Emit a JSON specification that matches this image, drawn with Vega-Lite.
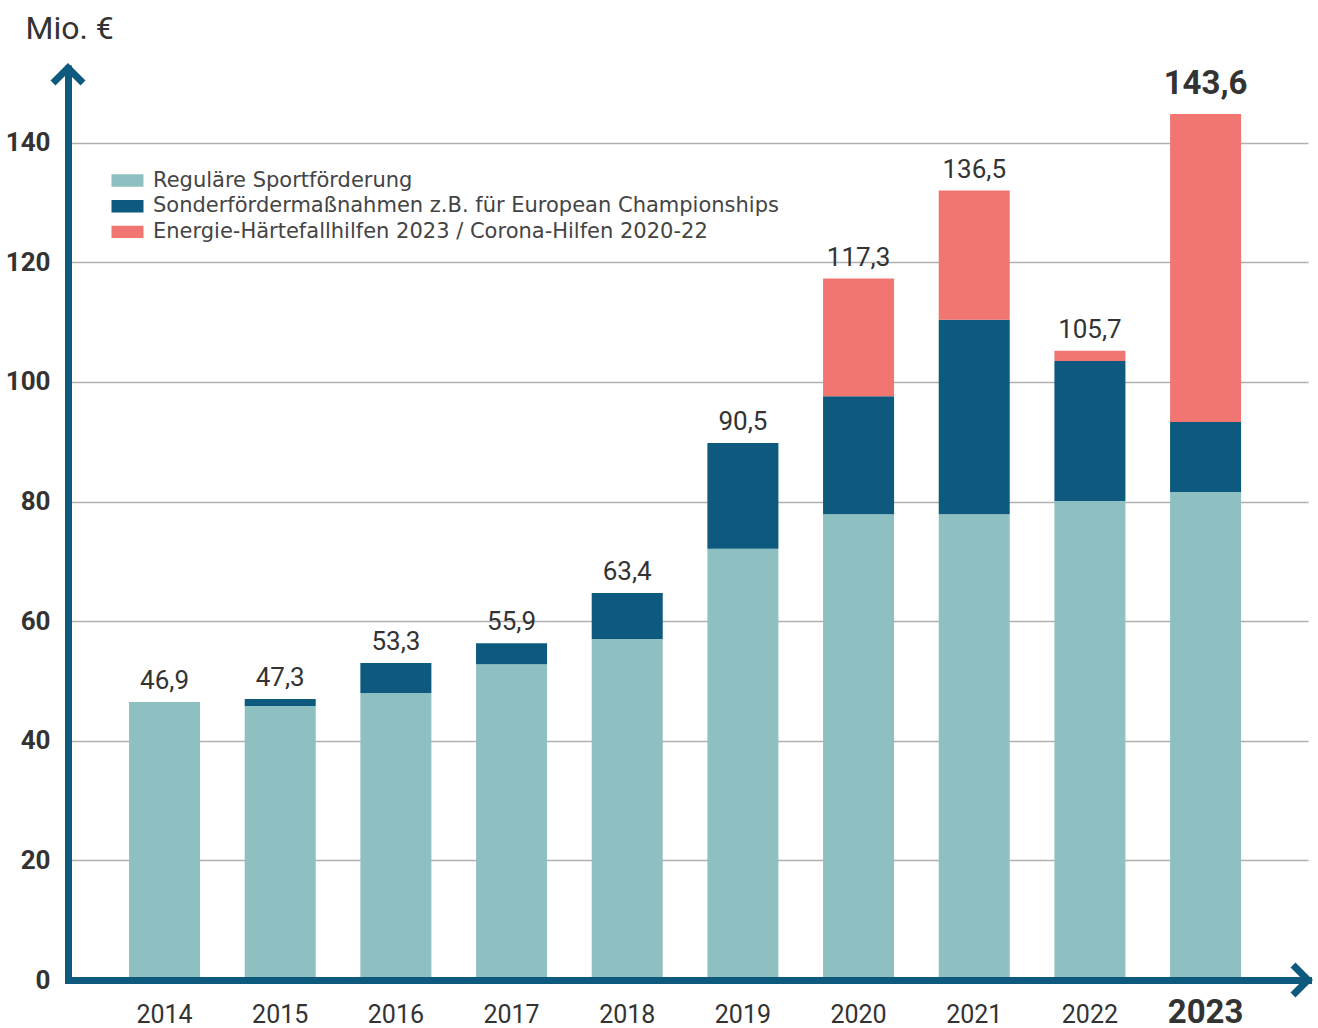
{
  "$schema": "https://vega.github.io/schema/vega-lite/v6.json",
  "width": 1240,
  "height": 915,
  "autosize": {"type": "none"},
  "padding": {"left": 68, "top": 65, "right": 10, "bottom": 48},
  "background": "white",
  "config": {"font": "Roboto", "view": {"stroke": null}},
  "datasets": {
    "bars": [
      {"year": "2014", "category": "Reguläre Sportförderung", "ord": 1, "value": 46.5, "label": "46,9"},
      {"year": "2015", "category": "Reguläre Sportförderung", "ord": 1, "value": 45.8, "label": "47,3"},
      {"year": "2015", "category": "Sonderfördermaßnahmen z.B. für European Championships", "ord": 2, "value": 1.2, "label": "47,3"},
      {"year": "2016", "category": "Reguläre Sportförderung", "ord": 1, "value": 48.0, "label": "53,3"},
      {"year": "2016", "category": "Sonderfördermaßnahmen z.B. für European Championships", "ord": 2, "value": 5.0, "label": "53,3"},
      {"year": "2017", "category": "Reguläre Sportförderung", "ord": 1, "value": 52.8, "label": "55,9"},
      {"year": "2017", "category": "Sonderfördermaßnahmen z.B. für European Championships", "ord": 2, "value": 3.5, "label": "55,9"},
      {"year": "2018", "category": "Reguläre Sportförderung", "ord": 1, "value": 57.0, "label": "63,4"},
      {"year": "2018", "category": "Sonderfördermaßnahmen z.B. für European Championships", "ord": 2, "value": 7.7, "label": "63,4"},
      {"year": "2019", "category": "Reguläre Sportförderung", "ord": 1, "value": 72.1, "label": "90,5"},
      {"year": "2019", "category": "Sonderfördermaßnahmen z.B. für European Championships", "ord": 2, "value": 17.7, "label": "90,5"},
      {"year": "2020", "category": "Reguläre Sportförderung", "ord": 1, "value": 77.9, "label": "117,3"},
      {"year": "2020", "category": "Sonderfördermaßnahmen z.B. für European Championships", "ord": 2, "value": 19.7, "label": "117,3"},
      {"year": "2020", "category": "Energie-Härtefallhilfen 2023 / Corona-Hilfen 2020-22", "ord": 3, "value": 19.7, "label": "117,3"},
      {"year": "2021", "category": "Reguläre Sportförderung", "ord": 1, "value": 77.9, "label": "136,5"},
      {"year": "2021", "category": "Sonderfördermaßnahmen z.B. für European Championships", "ord": 2, "value": 32.5, "label": "136,5"},
      {"year": "2021", "category": "Energie-Härtefallhilfen 2023 / Corona-Hilfen 2020-22", "ord": 3, "value": 21.6, "label": "136,5"},
      {"year": "2022", "category": "Reguläre Sportförderung", "ord": 1, "value": 80.1, "label": "105,7"},
      {"year": "2022", "category": "Sonderfördermaßnahmen z.B. für European Championships", "ord": 2, "value": 23.4, "label": "105,7"},
      {"year": "2022", "category": "Energie-Härtefallhilfen 2023 / Corona-Hilfen 2020-22", "ord": 3, "value": 1.7, "label": "105,7"},
      {"year": "2023", "category": "Reguläre Sportförderung", "ord": 1, "value": 81.6, "label": "143,6"},
      {"year": "2023", "category": "Sonderfördermaßnahmen z.B. für European Championships", "ord": 2, "value": 11.7, "label": "143,6"},
      {"year": "2023", "category": "Energie-Härtefallhilfen 2023 / Corona-Hilfen 2020-22", "ord": 3, "value": 51.5, "label": "143,6"}
    ]
  },
  "layer": [
    {
      "data": {"name": "bars"},
      "mark": {"type": "bar"},
      "encoding": {
        "x": {
          "field": "year", "type": "ordinal",
          "scale": {"paddingInner": 0.386, "paddingOuter": 0.553, "align": 0.477},
          "axis": {
            "title": null, "labelAngle": 0, "ticks": false,
            "labelFontSize": {"condition": {"test": "datum.value == '2023'", "value": 33}, "value": 25},
            "labelFontWeight": {"condition": {"test": "datum.value == '2023'", "value": "bold"}, "value": "normal"},
            "labelColor": "#333333", "labelBaseline": "alphabetic", "labelPadding": 42,
            "domainColor": "#0d5a7e", "domainWidth": 7, "domainCap": "square", "grid": false, "zindex": 1
          }
        },
        "y": {
          "field": "value", "type": "quantitative", "stack": "zero",
          "scale": {"domain": [0, 153], "nice": false},
          "axis": {
            "values": [0, 20, 40, 60, 80, 100, 120, 140],
            "title": "Mio. €", "titleAngle": 0, "titleX": -43, "titleY": -27,
            "titleAlign": "left", "titleBaseline": "alphabetic", "titleFontSize": 32,
            "titleFontWeight": "normal", "titleColor": "#333333",
            "labelFontSize": 26, "labelFontWeight": "bold", "labelColor": "#333333",
            "labelPadding": 18, "ticks": false,
            "domainColor": "#0d5a7e", "domainWidth": 7,
            "grid": true, "gridColor": "#b0b0b0", "gridWidth": 1.5, "zindex": 0
          }
        },
        "color": {
          "field": "category", "type": "nominal",
          "scale": {
            "domain": ["Reguläre Sportförderung", "Sonderfördermaßnahmen z.B. für European Championships", "Energie-Härtefallhilfen 2023 / Corona-Hilfen 2020-22"],
            "range": ["#8fc0c1", "#0d5a7e", "#f17672"]
          },
          "legend": {
            "orient": "none", "legendX": 49, "legendY": 105, "title": null, "padding": 0,
            "symbolType": "M-1.6,-0.62H1.6V0.62H-1.6Z", "symbolSize": 400, "symbolStrokeWidth": 0,
            "labelFont": "DejaVu Sans", "labelFontSize": 21, "labelColor": "#444444", "labelOffset": 15, "rowPadding": 3.7,
            "labelLimit": 900
          }
        },
        "order": {"field": "ord", "type": "quantitative"}
      }
    },
    {
      "data": {"name": "bars"},
      "transform": [
        {"aggregate": [{"op": "sum", "field": "value", "as": "total"}], "groupby": ["year", "label"]},
        {"filter": "datum.year != '2023'"}
      ],
      "mark": {"type": "text", "baseline": "alphabetic", "dy": -13, "fontSize": 26, "color": "#333333"},
      "encoding": {
        "x": {"field": "year", "type": "ordinal"},
        "y": {"field": "total", "type": "quantitative", "title": "Mio. €"},
        "text": {"field": "label"}
      }
    },
    {
      "data": {"name": "bars"},
      "transform": [
        {"aggregate": [{"op": "sum", "field": "value", "as": "total"}], "groupby": ["year", "label"]},
        {"filter": "datum.year == '2023'"}
      ],
      "mark": {"type": "text", "baseline": "alphabetic", "dy": -20, "fontSize": 33, "fontWeight": "bold", "color": "#333333"},
      "encoding": {
        "x": {"field": "year", "type": "ordinal"},
        "y": {"field": "total", "type": "quantitative", "title": "Mio. €"},
        "text": {"field": "label"}
      }
    },
    {
      "data": {"values": [{}]},
      "mark": {"type": "point", "shape": "M-1,1L0,0L1,1", "size": 900, "filled": false, "color": "#0d5a7e", "strokeWidth": 7, "strokeJoin": "miter", "opacity": 1},
      "encoding": {
        "x": {"value": 0},
        "y": {"datum": 152.5, "type": "quantitative", "title": "Mio. €"}
      }
    },
    {
      "data": {"values": [{}]},
      "mark": {"type": "point", "shape": "M-1,-1L0,0L-1,1", "size": 900, "filled": false, "color": "#0d5a7e", "strokeWidth": 7, "strokeJoin": "miter", "opacity": 1},
      "encoding": {
        "x": {"value": "width"},
        "y": {"datum": 0, "type": "quantitative", "title": "Mio. €"}
      }
    }
  ]
}
